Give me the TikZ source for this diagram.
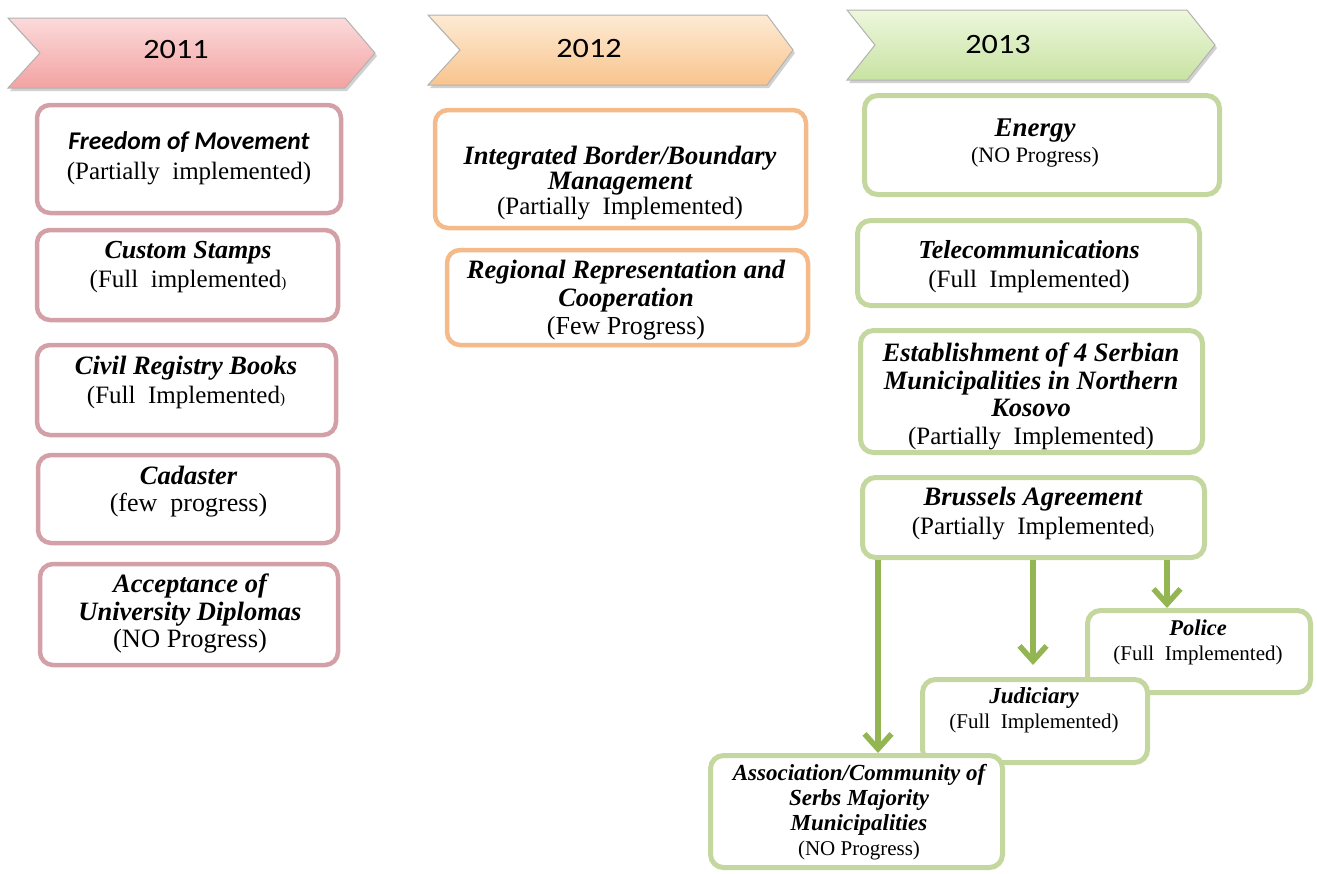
\documentclass[tikz,border=0pt]{standalone}
\usepackage{fontspec}
\setmainfont{Liberation Serif}
\newfontfamily\calfont{Carlito}
\usetikzlibrary{arrows.meta}
\definecolor{pinkb}{HTML}{D3A0A7}
\definecolor{orangeb}{HTML}{F5BA8A}
\definecolor{greenb}{HTML}{C3D79E}
\definecolor{greena}{HTML}{93B653}
\definecolor{pinkt}{HTML}{FBDADA}
\definecolor{pinkbot}{HTML}{F3A2A2}
\definecolor{orat}{HTML}{FDEBD4}
\definecolor{orabot}{HTML}{F9C48E}
\definecolor{grnt}{HTML}{EDF7DD}
\definecolor{grnbot}{HTML}{C8E3A2}
\tikzset{
  pbox/.style={draw=pinkb, line width=4.5pt, rounded corners=13pt, fill=white, inner sep=0pt},
  obox/.style={draw=orangeb, line width=4.5pt, rounded corners=13pt, fill=white, inner sep=0pt},
  gbox/.style={draw=greenb, line width=5pt, rounded corners=13pt, fill=white, inner sep=0pt},
  txt/.style={align=center, inner sep=0pt},
  year/.style={inner sep=0pt, font=\calfont\fontsize{28}{30}\selectfont},
  chev/.style={draw=black!30, line width=1pt},
  shad/.style={fill=black!18},
  arr/.style={draw=greena, line width=5.5pt, -{Straight Barb[length=15pt,width=27pt]}},
}
\newcommand{\ttl}[2]{{\bfseries\itshape\fontsize{#1}{#1}\selectfont #2}}
\begin{document}
\begin{tikzpicture}[x=1pt,y=-1pt]
\useasboundingbox (0,0) rectangle (1317,873);
% chevrons
\fill[shad] (10,21) -- (347,21) -- (377,56) -- (347,91) -- (10,91) -- (42,56) -- cycle;
\shade[chev, top color=pinkt, bottom color=pinkbot] (8,18) -- (345,18) -- (375,53) -- (345,88) -- (8,88) -- (40,53) -- cycle;
\node[year] (y1) at (176,50) {\scalebox{1.15}[1]{2011}};
\fill[shad] (430,18) -- (769,18) -- (795,53) -- (769,88) -- (430,88) -- (462,53) -- cycle;
\shade[chev, top color=orat, bottom color=orabot] (428,15) -- (767,15) -- (793,50) -- (767,85) -- (428,85) -- (460,50) -- cycle;
\node[year] (y2) at (589,49) {\scalebox{1.15}[1]{2012}};
\fill[shad] (849,13) -- (1189,13) -- (1217,48) -- (1189,83) -- (849,83) -- (877,48) -- cycle;
\shade[chev, top color=grnt, bottom color=grnbot] (847,10) -- (1187,10) -- (1215,45) -- (1187,80) -- (847,80) -- (875,45) -- cycle;
\node[year] (y3) at (998,45) {\scalebox{1.15}[1]{2013}};
% 2011 boxes
\node[pbox, minimum width=304pt, minimum height=108pt] (fm) at (189,159) {};
\node[txt, font=\fontsize{25}{30}\selectfont] (fmt) at (189,158) {{\calfont\bfseries\itshape\fontsize{25.5}{30}\selectfont Freedom of Movement}\\(Partially\ \ implemented)};
\node[pbox, minimum width=301pt, minimum height=90pt] (cs) at (187.5,275) {};
\node[txt, font=\fontsize{25}{29}\selectfont] (cst) at (188,267.5) {\ttl{26}{Custom Stamps}\\(Full\ \ implemented{\fontsize{15}{15}\selectfont)}};
\node[pbox, minimum width=299pt, minimum height=90pt] (cr) at (186.5,390) {};
\node[txt, font=\fontsize{25}{29}\selectfont] (crt) at (186,382.5) {\ttl{26.5}{Civil Registry Books}\\(Full\ \ Implemented{\fontsize{15}{15}\selectfont)}};
\node[pbox, minimum width=300pt, minimum height=88pt] (ca) at (188,499) {};
\node[txt, font=\fontsize{26}{27}\selectfont] (cat) at (188.5,491.5) {\ttl{26.5}{Cadaster}\\(few\ \ progress)};
\node[pbox, minimum width=298pt, minimum height=101pt] (ac) at (189,614.5) {};
\node[txt, font=\fontsize{26.5}{27.5}\selectfont] (act) at (190,614) {\ttl{26.5}{Acceptance of}\\\ttl{26.5}{University Diplomas}\\(NO Progress)};
% 2012 boxes
\node[obox, minimum width=371pt, minimum height=118pt] (ib) at (620.5,169) {};
\node[txt, font=\fontsize{25}{25}\selectfont] (ibt) at (620,183) {\ttl{26.5}{Integrated Border/Boundary}\\\ttl{26.5}{Management}\\(Partially\ \ Implemented)};
\node[obox, minimum width=361pt, minimum height=95pt] (rr) at (627.5,297.5) {};
\node[txt, font=\fontsize{26}{28}\selectfont] (rrt) at (626,300) {\ttl{26.5}{Regional Representation and}\\\ttl{26.5}{Cooperation}\\(Few Progress)};
% 2013 boxes
\node[gbox, minimum width=355pt, minimum height=99pt] (en) at (1042,145) {};
\node[txt, font=\fontsize{22}{26}\selectfont] (ent) at (1035,143.5) {\ttl{27}{Energy}\\(NO Progress)};
\node[gbox, minimum width=342pt, minimum height=85pt] (tc) at (1028.5,263) {};
\node[txt, font=\fontsize{25}{29}\selectfont] (tct) at (1029,267) {\ttl{26}{Telecommunications}\\(Full\ \ Implemented)};
\node[gbox, minimum width=342pt, minimum height=122pt] (es) at (1031.5,391.5) {};
\node[txt, font=\fontsize{25}{27.7}\selectfont] (est) at (1031,396.5) {\ttl{26.5}{Establishment of 4 Serbian}\\\ttl{26.5}{Municipalities in Northern}\\\ttl{26.5}{Kosovo}\\(Partially\ \ Implemented)};
\node[gbox, minimum width=342pt, minimum height=80pt] (br) at (1033.5,517.5) {};
\node[txt, font=\fontsize{25}{29}\selectfont] (brt) at (1033,513.5) {\ttl{26.5}{Brussels Agreement}\\(Partially\ \ Implemented{\fontsize{15}{15}\selectfont)}};
\node[gbox, minimum width=223pt, minimum height=82pt] (po) at (1199,651.5) {};
\node[txt, font=\fontsize{21}{25}\selectfont] (pot) at (1198,642.5) {\ttl{22.5}{Police}\\(Full\ \ Implemented)};
\node[gbox, minimum width=225pt, minimum height=83pt] (ju) at (1035,721) {};
\node[txt, font=\fontsize{21}{25}\selectfont] (jut) at (1034,710.5) {\ttl{23}{Judiciary}\\(Full\ \ Implemented)};
\node[gbox, minimum width=292pt, minimum height=112pt] (as) at (856.5,811.5) {};
\node[txt, font=\fontsize{21}{25}\selectfont] (ast) at (859,812.5) {\ttl{23}{Association/Community of}\\\ttl{23}{Serbs Majority}\\\ttl{23}{Municipalities}\\(NO Progress)};
% arrows
\coordinate (a1) at (878,0);
\coordinate (a2) at (1033,0);
\coordinate (a3) at (1167,0);
\draw[arr] (br.south -| a1) -- (as.north -| a1);
\draw[arr, shorten >=12pt] (br.south -| a2) -- (ju.north -| a2);
\draw[arr] (br.south -| a3) -- (po.north -| a3);
\end{tikzpicture}
\end{document}
